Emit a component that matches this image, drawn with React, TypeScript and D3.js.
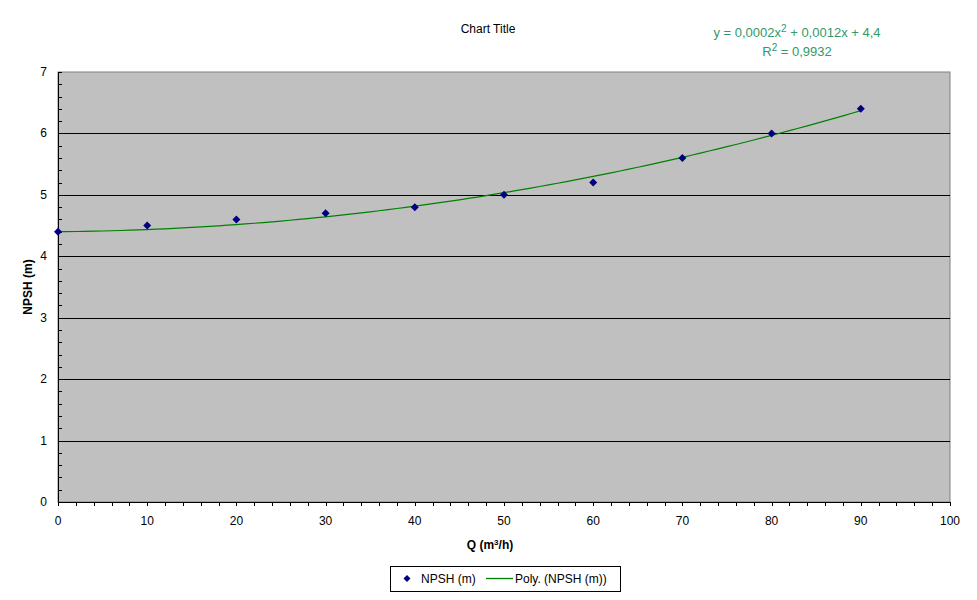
import React from "react";
import * as d3 from "d3";

const qValues = [0, 10, 20, 30, 40, 50, 60, 70, 80, 90];
const npshValues = [4.4, 4.5, 4.6, 4.7, 4.8, 5.0, 5.2, 5.6, 6.0, 6.4];
const trendIntercept = 4.4;
const xTickValues = [0, 10, 20, 30, 40, 50, 60, 70, 80, 90, 100];
const yTickValues = [0, 1, 2, 3, 4, 5, 6, 7];
const chartTitle = "Chart Title";
const seriesName = "NPSH (m)";
const trendName = "Poly. (NPSH (m))";

const W = 977;
const H = 600;
const M = { left: 58, right: 950, top: 72, bottom: 502 };
const FONT = "'Liberation Sans', Arial, sans-serif";

// least-squares quadratic fit with the intercept set (as the spreadsheet trendline option)
function fitQuadraticFixed(xs: number[], ys: number[], c: number) {
  let s2 = 0, s3 = 0, s4 = 0, t1 = 0, t2 = 0;
  xs.forEach((x, i) => {
    const z = ys[i] - c;
    s2 += x * x; s3 += x ** 3; s4 += x ** 4;
    t1 += x * z; t2 += x * x * z;
  });
  // [s4 s3][a] = [t2]
  // [s3 s2][b]   [t1]
  const det = s4 * s2 - s3 * s3;
  const a = (t2 * s2 - s3 * t1) / det;
  const b = (s4 * t1 - s3 * t2) / det;
  return [a, b, c];
}

export default function App() {
  const x = d3.scaleLinear().domain([0, 100]).range([M.left, M.right]);
  const y = d3.scaleLinear().domain([0, 7]).range([M.bottom, M.top]);
  const [a, b, c] = fitQuadraticFixed(qValues, npshValues, trendIntercept);
  const trendX = d3.range(0, 90.01, 1);
  const line = d3
    .line<number>()
    .x((d) => x(d))
    .y((d) => y(a * d * d + b * d + c));

  const xMinor = d3.range(0, 100.01, 2);
  const yMinor = d3.range(0, 7.001, 0.2);
  const eqColor = "#339966";

  return (
    <svg width={W} height={H} style={{ display: "block", position: "absolute", left: 0, top: 0 }} fontFamily={FONT}>
      <rect x={0} y={0} width={W} height={H} fill="#ffffff" />
      <text x={488} y={33} fontSize={12} textAnchor="middle" fill="#000">{chartTitle}</text>
      <text x={797} y={37} fontSize={13} textAnchor="middle" fill={eqColor}>
        y = 0,0002x<tspan dy={-5} fontSize={10}>2</tspan><tspan dy={5}> + 0,0012x + 4,4</tspan>
      </text>
      <text x={797} y={56} fontSize={13} textAnchor="middle" fill={eqColor}>
        R<tspan dy={-5} fontSize={10}>2</tspan><tspan dy={5}> = 0,9932</tspan>
      </text>

      <rect x={M.left} y={M.top} width={M.right - M.left} height={M.bottom - M.top} fill="#c0c0c0" stroke="#808080" strokeWidth={1} />
      {yTickValues.filter((v) => v > 0 && v < 7).map((v) => (
        <line key={"g" + v} x1={M.left} x2={M.right} y1={Math.round(y(v)) + 0.5} y2={Math.round(y(v)) + 0.5} stroke="#000" strokeWidth={1} />
      ))}
      {yMinor.map((v, i) => (
        <line key={"ym" + i} x1={M.left} x2={M.left + 4} y1={Math.round(y(v)) + 0.5} y2={Math.round(y(v)) + 0.5} stroke="#000" />
      ))}
      {xMinor.map((v, i) => (
        <line key={"xm" + i} x1={Math.round(x(v)) + 0.5} x2={Math.round(x(v)) + 0.5} y1={M.bottom} y2={M.bottom + 4} stroke="#000" />
      ))}
      <line x1={M.left + 0.5} x2={M.left + 0.5} y1={M.top} y2={M.bottom} stroke="#000" />
      <line x1={M.left} x2={M.right} y1={M.bottom + 0.5} y2={M.bottom + 0.5} stroke="#000" />

      {yTickValues.map((v) => (
        <text key={"yl" + v} x={47} y={y(v) + 4} fontSize={12} textAnchor="end" fill="#000">{v}</text>
      ))}
      {xTickValues.map((v) => (
        <text key={"xl" + v} x={x(v)} y={525} fontSize={12} textAnchor="middle" fill="#000">{v}</text>
      ))}

      <path d={line(trendX) || ""} fill="none" stroke="#008000" strokeWidth={1.2} />
      {qValues.map((q, i) => {
        const cx = x(q), cy = y(npshValues[i]);
        return <path key={"p" + i} d={`M${cx},${cy - 4}L${cx + 4},${cy}L${cx},${cy + 4}L${cx - 4},${cy}Z`} fill="#000080" />;
      })}

      <text x={490} y={549} fontSize={12} fontWeight="bold" textAnchor="middle" fill="#000">
        Q (m<tspan dy={-4} fontSize={8}>3</tspan><tspan dy={4}>/h)</tspan>
      </text>
      <text transform={`translate(32,${(M.top + M.bottom) / 2}) rotate(-90)`} fontSize={12} fontWeight="bold" textAnchor="middle" fill="#000">NPSH (m)</text>

      <rect x={390.5} y={566.5} width={230} height={25} fill="#fff" stroke="#000" />
      <path d="M407,575L410.5,578.5L407,582L403.5,578.5Z" fill="#000080" />
      <text x={421} y={583} fontSize={12} fill="#000">{seriesName}</text>
      <line x1={486} x2={513} y1={578.5} y2={578.5} stroke="#008000" strokeWidth={1.3} />
      <text x={515} y={583} fontSize={12} fill="#000">{trendName}</text>
    </svg>
  );
}
